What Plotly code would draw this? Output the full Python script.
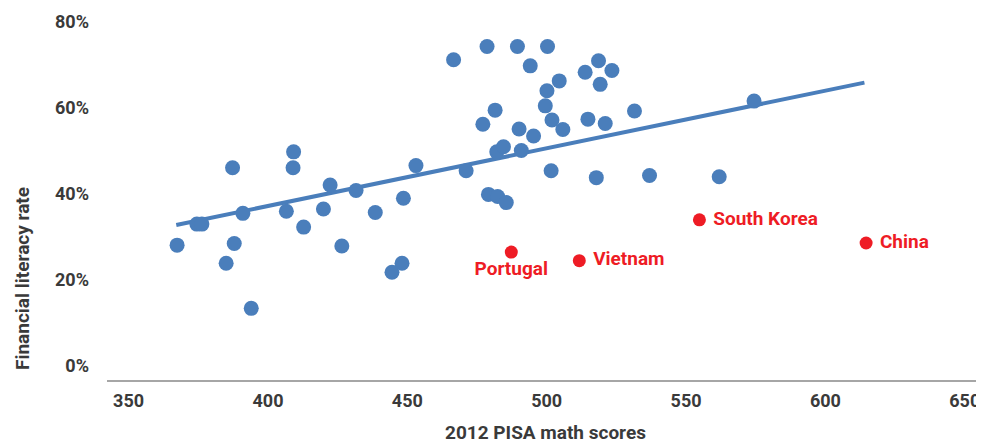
import plotly.graph_objects as go

# ===============================
# DATA
# ===============================
pisa_scores = [
    367.4, 374.5, 376.3, 385.0, 387.9, 387.3, 391.0, 394.0, 406.6, 409.0,
    409.2, 412.8, 419.9, 422.3, 426.5, 431.6, 438.5, 444.5, 448.1, 448.6,
    453.1, 466.6, 471.1, 477.1, 478.6, 479.1, 481.5, 482.4, 482.1, 484.5,
    485.5, 489.5, 490.1, 490.9, 494.1, 495.3, 499.5, 500.1, 500.3, 501.6,
    501.9, 504.5, 505.8, 513.8, 514.8, 518.6, 517.8, 519.2, 521.0, 523.4,
    531.5, 536.9, 561.9, 574.4,
]
literacy_rates = [
    28.1, 33.0, 33.0, 23.9, 28.5, 46.1, 35.5, 13.4, 36.0, 46.1,
    49.8, 32.3, 36.5, 42.1, 27.9, 40.8, 35.7, 21.8, 23.9, 39.0,
    46.6, 71.2, 45.4, 56.2, 74.3, 39.9, 59.5, 39.4, 49.8, 51.0,
    38.0, 74.3, 55.1, 50.1, 69.8, 53.5, 60.5, 64.0, 74.3, 45.4,
    57.2, 66.3, 55.0, 68.3, 57.4, 71.0, 43.8, 65.5, 56.4, 68.7,
    59.3, 44.3, 44.0, 61.6,
]

highlight_names = ["Portugal", "Vietnam", "South Korea", "China"]
highlight_scores = [487.3, 511.7, 554.8, 614.6]
highlight_rates = [26.5, 24.5, 34.0, 28.6]
highlight_textpos = ["bottom center", "middle right", "middle right", "middle right"]

trend_x = [367.1, 614.0]
trend_y = [32.8, 65.9]

x_ticks = [350, 400, 450, 500, 550, 600, 650]
y_ticks = [0, 20, 40, 60, 80]
y_tick_labels = ["0%", "20%", "40%", "60%", "80%"]

BLUE = "#4a7ebb"
RED = "#ee1c25"
DARK = "#3a3a3a"
FONT = "Roboto, Arial, sans-serif"

# ===============================
# FIGURE
# ===============================
fig = go.Figure()

fig.add_trace(go.Scatter(
    x=trend_x,
    y=trend_y,
    mode="lines",
    line=dict(color=BLUE, width=4),
    hoverinfo="skip",
))

fig.add_trace(go.Scatter(
    x=pisa_scores,
    y=literacy_rates,
    mode="markers",
    marker=dict(color=BLUE, size=15, line=dict(width=0)),
))

fig.add_trace(go.Scatter(
    x=highlight_scores,
    y=highlight_rates,
    mode="markers+text",
    text=[" " + n if p == "middle right" else n
          for n, p in zip(highlight_names, highlight_textpos)],
    textposition=highlight_textpos,
    textfont=dict(family=FONT, size=19, color=RED, weight="bold"),
    marker=dict(color=RED, size=13, line=dict(width=0)),
))

# axis titles as annotations so they sit where the reference has them
fig.add_annotation(
    text="Financial literacy rate",
    xref="paper", yref="paper",
    x=-0.097, y=0.274,
    xanchor="center", yanchor="middle",
    textangle=-90,
    showarrow=False,
    font=dict(family=FONT, size=19, color=DARK, weight="bold"),
)
fig.add_annotation(
    text="2012 PISA math scores",
    xref="paper", yref="paper",
    x=0.5, y=-0.140,
    xanchor="center", yanchor="middle",
    showarrow=False,
    font=dict(family=FONT, size=19, color=DARK, weight="bold"),
)

# page body adds an 8px offset, so the figure is sized/margined to compensate
fig.update_layout(
    width=976,
    height=435,
    margin=dict(l=99, r=0, t=0, b=63),
    plot_bgcolor="white",
    paper_bgcolor="white",
    showlegend=False,
    xaxis=dict(
        range=[342.25, 656.9],
        tickvals=x_ticks,
        showgrid=False,
        zeroline=False,
        showline=True,
        linecolor="#a6a6a6",
        linewidth=2,
        ticks="",
        automargin=False,
        ticklabelstandoff=3,
        tickfont=dict(family=FONT, size=18, color=DARK, weight="bold"),
    ),
    yaxis=dict(
        range=[-3.26, 83.25],
        tickvals=y_ticks,
        ticktext=y_tick_labels,
        showgrid=False,
        zeroline=False,
        showline=False,
        ticks="",
        automargin=False,
        ticklabelstandoff=17,
        tickfont=dict(family=FONT, size=18, color=DARK, weight="bold"),
    ),
)

fig.write_html("out.html")
